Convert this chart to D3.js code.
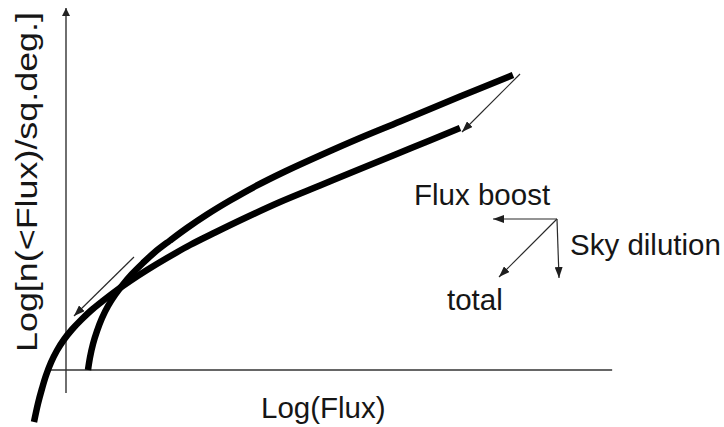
<!DOCTYPE html>
<html>
<head>
<meta charset="utf-8">
<script src="https://cdn.jsdelivr.net/npm/d3@7"></script>
<style>
  html, body { margin: 0; padding: 0; background: #fff; }
  svg { display: block; }
  text { font-family: "Liberation Sans", Arial, Helvetica, sans-serif; fill: #161616; }
</style>
</head>
<body>
<svg id="chart" width="724" height="427"></svg>
<script>
// Schematic source counts: log N(>S) per square degree against log flux.
// Intrinsic counts curve (steep faint end, ends higher at the bright end).
const intrinsicX = [0.40, 0.436, 0.491, 0.564, 0.655, 0.764, 0.891, 1.036, 1.20, 1.40, 1.618, 1.891, 2.20, 2.564, 2.982, 3.436, 3.982, 4.618, 5.345, 6.073, 7.164, 8.127];
const intrinsicY = [0.00, 0.25, 0.52, 0.78, 1.04, 1.28, 1.50, 1.71, 1.92, 2.14, 2.36, 2.59, 2.84, 3.11, 3.39, 3.67, 3.97, 4.29, 4.64, 4.97, 5.47, 5.90];

// Observed counts after flux boosting and sky dilution.
const observedX = [-0.582, -0.509, -0.436, -0.364, -0.273, -0.164, -0.036, 0.109, 0.273, 0.455, 0.655, 0.891, 1.164, 1.473, 1.836, 2.255, 2.709, 3.255, 3.891, 4.618, 5.345, 6.255, 7.164];
const observedY = [-1.04, -0.67, -0.37, -0.11, 0.15, 0.39, 0.61, 0.81, 1.00, 1.19, 1.37, 1.57, 1.78, 2.00, 2.24, 2.50, 2.75, 3.04, 3.36, 3.69, 4.02, 4.43, 4.84];

// Shift arrows between the two curves: [x1, y1, x2, y2]
const shiftArrows = [
  [8.255, 5.92, 7.20, 4.76],
  [1.236, 2.26, 0.145, 1.08]
];

// Key: flux boost (left), sky dilution (down), total (diagonal)
const keyOrigin = [8.927, 3.02];
const keyTargets = [[7.764, 3.02], [8.964, 1.84], [7.873, 1.86]];
const keyLabels = [
  { text: "Flux boost", x: 6.327, y: 3.30 },
  { text: "Sky dilution", x: 9.164, y: 2.30 },
  { text: "total", x: 6.927, y: 1.20 }
];

// Axis extents in data units
const xAxisExtent = [-0.38, 9.93];
const yAxisExtent = [-0.46, 7.24];
const xTitle = "Log(Flux)";
const yTitle = "Log[n(<Flux)/sq.deg.]";

const svg = d3.select("#chart");
const x = d3.scaleLinear().domain([0, 10]).range([66, 616]);
const y = d3.scaleLinear().domain([0, 7]).range([370, 20]);

const defs = svg.append("defs");
function marker(id, len, wid, color) {
  defs.append("marker")
    .attr("id", id)
    .attr("viewBox", `0 0 ${len} ${wid}`)
    .attr("refX", len).attr("refY", wid / 2)
    .attr("markerWidth", len).attr("markerHeight", wid)
    .attr("markerUnits", "userSpaceOnUse")
    .attr("orient", "auto")
    .append("path")
    .attr("d", `M0,0 L${len},${wid / 2} L0,${wid} Z`)
    .attr("fill", color);
}
marker("head", 11, 8, "#1e1e1e");
marker("axisHead", 8, 8, "#222");

// Axes
svg.append("line")
  .attr("x1", x(xAxisExtent[0])).attr("x2", x(xAxisExtent[1]))
  .attr("y1", y(0)).attr("y2", y(0))
  .attr("stroke", "#333").attr("stroke-width", 1.4);
svg.append("line")
  .attr("x1", x(0)).attr("x2", x(0))
  .attr("y1", y(yAxisExtent[0])).attr("y2", y(yAxisExtent[1]))
  .attr("stroke", "#333").attr("stroke-width", 1.4)
  .attr("marker-end", "url(#axisHead)");

// Curves
const line = d3.line().x(d => x(d[0])).y(d => y(d[1])).curve(d3.curveCatmullRom.alpha(0.5));
const intrinsic = d3.zip(intrinsicX, intrinsicY);
const observed = d3.zip(observedX, observedY);
[observed, intrinsic].forEach(pts => {
  svg.append("path")
    .attr("d", line(pts))
    .attr("fill", "none")
    .attr("stroke", "#000")
    .attr("stroke-width", 6.5)
    .attr("stroke-linecap", "butt");
});

// Thin arrows
function arrow(x1, y1, x2, y2) {
  svg.append("line")
    .attr("x1", x(x1)).attr("y1", y(y1))
    .attr("x2", x(x2)).attr("y2", y(y2))
    .attr("stroke", "#2a2a2a").attr("stroke-width", 1.2)
    .attr("marker-end", "url(#head)");
}
shiftArrows.forEach(a => arrow(...a));
keyTargets.forEach(t => arrow(keyOrigin[0], keyOrigin[1], t[0], t[1]));

// Labels
const fs = 29.5;
keyLabels.forEach(l => {
  svg.append("text")
    .attr("x", x(l.x)).attr("y", y(l.y))
    .attr("font-size", fs)
    .text(l.text);
});
svg.append("text")
  .attr("x", 261).attr("y", 418)
  .attr("font-size", fs)
  .text(xTitle);
svg.append("text")
  .attr("transform", "translate(37,352) rotate(-90)")
  .attr("font-size", fs)
  .attr("textLength", 340)
  .attr("lengthAdjust", "spacingAndGlyphs")
  .text(yTitle);
</script>
</body>
</html>
